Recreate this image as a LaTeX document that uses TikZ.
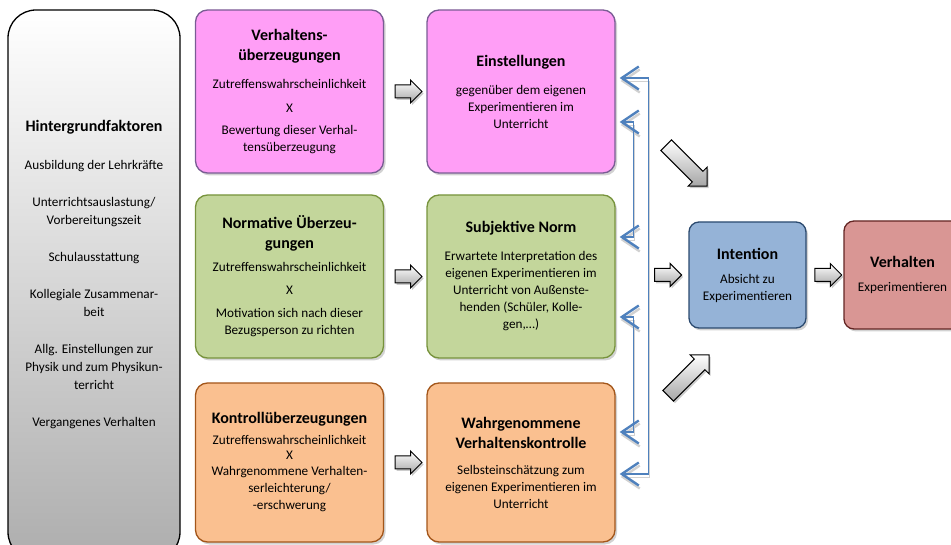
\documentclass[tikz,border=0pt]{standalone}
\usepackage{fontspec}
\setmainfont{Carlito}
\usetikzlibrary{shapes.arrows,arrows.meta,shadows,positioning,calc}

\definecolor{pinkfill}{HTML}{FF9EF6}
\definecolor{pinkline}{HTML}{7A5C94}
\definecolor{greenfill}{HTML}{C3D69B}
\definecolor{greenline}{HTML}{77933C}
\definecolor{orangefill}{HTML}{FAC090}
\definecolor{orangeline}{HTML}{A3561A}
\definecolor{bluefill}{HTML}{95B3D7}
\definecolor{blueline}{HTML}{2B4A6F}
\definecolor{redfill}{HTML}{D99694}
\definecolor{redline}{HTML}{632523}
\definecolor{linkblue}{HTML}{4F81BD}

\newcommand{\hd}[1]{{\fontsize{16}{20}\selectfont\bfseries #1}}

\tikzset{
  factor/.style={draw, rounded corners=12pt, line width=1.3pt, align=center, inner sep=3pt,
    minimum width=188pt, font=\fontsize{13.2}{17}\selectfont,
    drop shadow={shadow xshift=2pt, shadow yshift=-2.5pt, fill=black!35}},
  fatarrow/.style={single arrow, draw, line width=1pt, inner xsep=0pt, inner ysep=6pt,
    single arrow head extend=5pt, minimum height=27pt, top color=white, bottom color=black!35,
    drop shadow={shadow xshift=1.5pt, shadow yshift=-2pt, fill=black!40}},
  linkarrow/.style={draw=linkblue, line width=1.5pt, <->, shorten <=4pt, shorten >=4pt,
    preaction={draw=black!18, transform canvas={shift={(1pt,-3pt)}}}},
}

\begin{document}
\begin{tikzpicture}[x=1pt, y=1pt, >={Straight Barb[length=17pt, width=23pt, line width=2.4pt]}]

\useasboundingbox (0,0) rectangle (951,544);

%hintergrund
\node [draw, line width=1.3pt, rounded corners=28pt, minimum width=172pt, minimum height=550pt,
  top color=white, bottom color=black!32] (hint) at (94,259) {};
\node [align=center, font=\fontsize{13.2}{18}\selectfont] (hinttxt) at (94,269)
  {\hd{Hintergrundfaktoren}\\[20pt]
   Ausbildung der Lehrkräfte\\[19pt]
   Unterrichtsauslastung/\\Vorbereitungszeit\\[19pt]
   Schulausstattung\\[19pt]
   Kollegiale Zusammenar-\\beit\\[19pt]
   Allg. Einstellungen zur\\Physik und zum Physikun-\\terricht\\[19pt]
   Vergangenes Verhalten};

%boxes
\node [factor, fill=pinkfill, draw=pinkline, minimum height=163pt] (vue) at (289.5,452.5)
  {\hd{Verhaltens-}\\[3pt]\hd{überzeugungen}\\[11pt]
   Zutreffenswahrscheinlichkeit\\[7pt] X\\[5pt]
   Bewertung dieser Verhal-\\tensüberzeugung};
\node [factor, fill=pinkfill, draw=pinkline, minimum height=163pt] (einst) at (521,452.5)
  {\hd{Einstellungen}\\[11pt]
   gegenüber dem eigenen\\Experimentieren im\\Unterricht};
\node [factor, fill=greenfill, draw=greenline, minimum height=163pt] (norm) at (289.5,267.5)
  {\hd{Normative Überzeu-}\\[3pt]\hd{gungen}\\[6pt]
   Zutreffenswahrscheinlichkeit\\[6pt] X\\[6pt]
   Motivation sich nach dieser\\Bezugsperson zu richten};
\node [factor, fill=greenfill, draw=greenline, minimum height=163pt] (subj) at (521,267.5)
  {\hd{Subjektive Norm}\\[11pt]
   Erwartete Interpretation des\\eigenen Experimentieren im\\Unterricht von Außenste-\\henden (Schüler, Kolle-\\gen,…)};
\node [factor, fill=orangefill, draw=orangeline, minimum height=159pt] (kontr) at (289.5,81.5)
  {\hd{Kontrollüberzeugungen}\\[4pt]
   Zutreffenswahrscheinlichkeit\\[-2pt] X\\[-1pt]
   Wahrgenommene Verhalten-\\serleichterung/\\-erschwerung};
\node [factor, fill=orangefill, draw=orangeline, minimum height=159pt] (wahr) at (521,81.5)
  {\hd{Wahrgenommene}\\[3pt]\hd{Verhaltenskontrolle}\\[9pt]
   Selbsteinschätzung zum\\eigenen Experimentieren im\\Unterricht};
\node [factor, fill=bluefill, draw=blueline, minimum width=117pt, minimum height=106pt,
  rounded corners=10pt] (int) at (747.5,269)
  {\hd{Intention}\\[7pt] Absicht zu\\Experimentieren};
\node [factor, fill=redfill, draw=redline, minimum width=117pt, minimum height=108pt,
  rounded corners=10pt] (verh) at (902.5,269)
  {\hd{Verhalten}\\[7pt] Experimentieren};

%arrows
\node [fatarrow] (a1) at ($(vue.east)!0.5!(einst.west)$) {};
\node [fatarrow] (a2) at ($(norm.east)!0.5!(subj.west)$) {};
\node [fatarrow] (a3) at ($(kontr.east)!0.5!(wahr.west)$) {};
\node [fatarrow, left=6pt of int] (a4) {};
\node [fatarrow] (a5) at ($(int.east)!0.5!(verh.west)$) {};
\node [fatarrow, minimum height=58pt, inner ysep=7pt, single arrow head extend=6pt,
  rotate=-45] (d1) at (684,381) {};
\node [fatarrow, minimum height=58pt, inner ysep=7pt, single arrow head extend=6pt,
  rotate=45] (d2) at (686,166) {};

%lines
\draw [linkarrow] ([yshift=13.5]einst.east) -- ++(33,0) |- ([yshift=-11.5]wahr.east);
\draw [linkarrow] ([yshift=-30.5]einst.east) -- ++(18,0) |- ([yshift=39.5]subj.east);
\draw [linkarrow] ([yshift=-40.5]subj.east) -- ++(18,0) |- ([yshift=30.5]wahr.east);

\end{tikzpicture}
\end{document}
